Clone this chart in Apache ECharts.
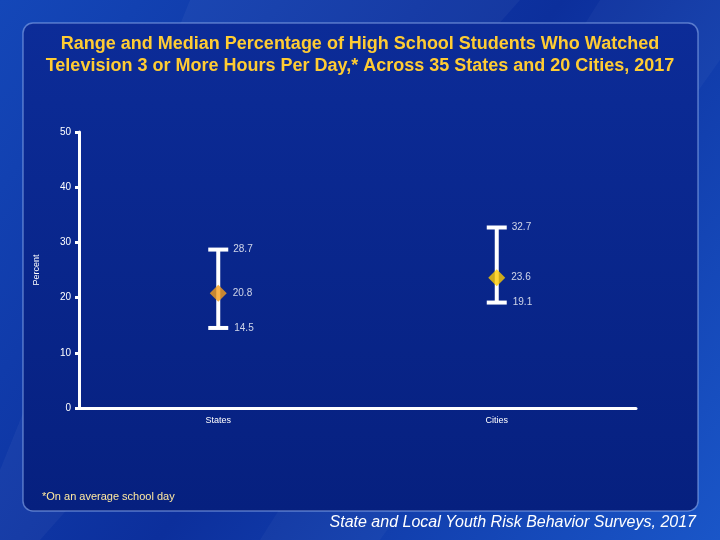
<!DOCTYPE html>
<html><head><meta charset="utf-8">
<script src="https://cdn.jsdelivr.net/npm/echarts@6/dist/echarts.min.js"></script>
<style>html,body{margin:0;padding:0;background:#0d2f9e;}#c{width:720px;height:540px;}</style>
</head><body><div id="c"></div>
<script>
var categories = ['States', 'Cities'];
var lowValues = [14.5, 19.1];
var highValues = [28.7, 32.7];
var medianValues = [20.8, 23.6];
var medianColors = ['#F7A01D', '#FFCC00'];
var yTicks = [0, 10, 20, 30, 40, 50];

var chart = echarts.init(document.getElementById('c'));
var lblStyle = {show: true, position: 'right', distance: 8, color: '#ffffff', fontSize: 10, fontFamily: 'Liberation Sans, Arial, sans-serif'};

chart.setOption({
  animation: false,
  backgroundColor: {
    type: 'linear', x: 0, y: 0, x2: 1, y2: 1,
    colorStops: [{offset: 0, color: '#1447b8'}, {offset: 0.5, color: '#0c2f9c'}, {offset: 1, color: '#1a56c8'}]
  },
  graphic: [
    {type: 'polygon', silent: true, z: -10, shape: {points: [[190, 0], [520, 0], [40, 540], [0, 540], [0, 470]]},
      style: {fill: 'rgba(255,255,255,0.04)'}},
    {type: 'polygon', silent: true, z: -10, shape: {points: [[600, 0], [720, 0], [720, 60], [380, 540], [260, 540]]},
      style: {fill: 'rgba(255,255,255,0.03)'}},
    {type: 'rect', silent: true, z: -9,
      shape: {x: 23, y: 23, width: 675, height: 488, r: 10},
      style: {
        fill: {type: 'linear', x: 0, y: 0, x2: 0, y2: 1,
          colorStops: [{offset: 0, color: '#0c2c98'}, {offset: 1, color: '#06207f'}]},
        stroke: 'rgba(150,180,240,0.55)', lineWidth: 1.5
      }},
    {type: 'text', x: 360, y: 33, z: 10,
      style: {text: 'Range and Median Percentage of High School Students Who Watched\nTelevision 3 or More Hours Per Day,* Across 35 States and 20 Cities, 2017',
        fill: '#FFCC33', font: 'bold 18px "Liberation Sans", Arial, sans-serif', align: 'center', verticalAlign: 'top', lineHeight: 22}},
    {type: 'text', left: 42, top: 491, z: 10,
      style: {text: '*On an average school day', fill: '#FFE9A0', font: '11px "Liberation Sans", Arial, sans-serif'}},
    {type: 'text', right: 24, top: 515, z: 10,
      style: {text: 'State and Local Youth Risk Behavior Surveys, 2017', fill: '#ffffff', font: 'italic 16px "Liberation Sans", Arial, sans-serif'}}
  ],
  grid: {left: 79, right: 84, top: 132, bottom: 132},
  xAxis: {
    type: 'category', data: categories, boundaryGap: true,
    axisLine: {lineStyle: {color: '#ffffff', width: 3}},
    axisTick: {show: false},
    axisLabel: {color: '#ffffff', fontSize: 9, margin: 8, fontFamily: 'Liberation Sans, Arial, sans-serif'}
  },
  yAxis: {
    type: 'value', min: yTicks[0], max: yTicks[yTicks.length - 1], interval: 10,
    name: 'Percent', nameLocation: 'middle', nameGap: 38, nameRotate: 90,
    nameTextStyle: {color: '#ffffff', fontSize: 9, fontFamily: 'Liberation Sans, Arial, sans-serif'},
    axisLine: {show: true, lineStyle: {color: '#ffffff', width: 3}},
    axisTick: {show: true, length: 4, lineStyle: {color: '#ffffff', width: 3}},
    axisLabel: {color: '#ffffff', fontSize: 10, margin: 8, fontFamily: 'Liberation Sans, Arial, sans-serif'},
    splitLine: {show: false}
  },
  series: [
    {
      type: 'custom', z: 3,
      data: categories.map(function (c, i) { return [i, lowValues[i], highValues[i]]; }),
      renderItem: function (params, api) {
        var lo = api.coord([api.value(0), api.value(1)]);
        var hi = api.coord([api.value(0), api.value(2)]);
        var hw = 10;
        var st = {stroke: '#ffffff', lineWidth: 4};
        return {type: 'group', children: [
          {type: 'line', shape: {x1: lo[0], y1: lo[1], x2: hi[0], y2: hi[1]}, style: st},
          {type: 'line', shape: {x1: lo[0] - hw, y1: lo[1], x2: lo[0] + hw, y2: lo[1]}, style: st},
          {type: 'line', shape: {x1: hi[0] - hw, y1: hi[1], x2: hi[0] + hw, y2: hi[1]}, style: st}
        ]};
      }
    },
    {
      type: 'scatter', symbol: 'diamond', symbolSize: 17, z: 5,
      data: categories.map(function (c, i) { return {value: [i, medianValues[i]], itemStyle: {color: medianColors[i]}}; }),
      label: Object.assign({}, lblStyle, {distance: 6, formatter: function (p) { return p.value[1].toFixed(1); }})
    },
    {
      type: 'scatter', symbolSize: 0, z: 5,
      data: categories.map(function (c, i) { return [i, highValues[i]]; }),
      label: Object.assign({}, lblStyle, {distance: 15, formatter: function (p) { return p.value[1].toFixed(1); }})
    },
    {
      type: 'scatter', symbolSize: 0, z: 5,
      data: categories.map(function (c, i) { return [i, lowValues[i]]; }),
      label: Object.assign({}, lblStyle, {distance: 16, formatter: function (p) { return p.value[1].toFixed(1); }})
    }
  ]
});
</script></body></html>
